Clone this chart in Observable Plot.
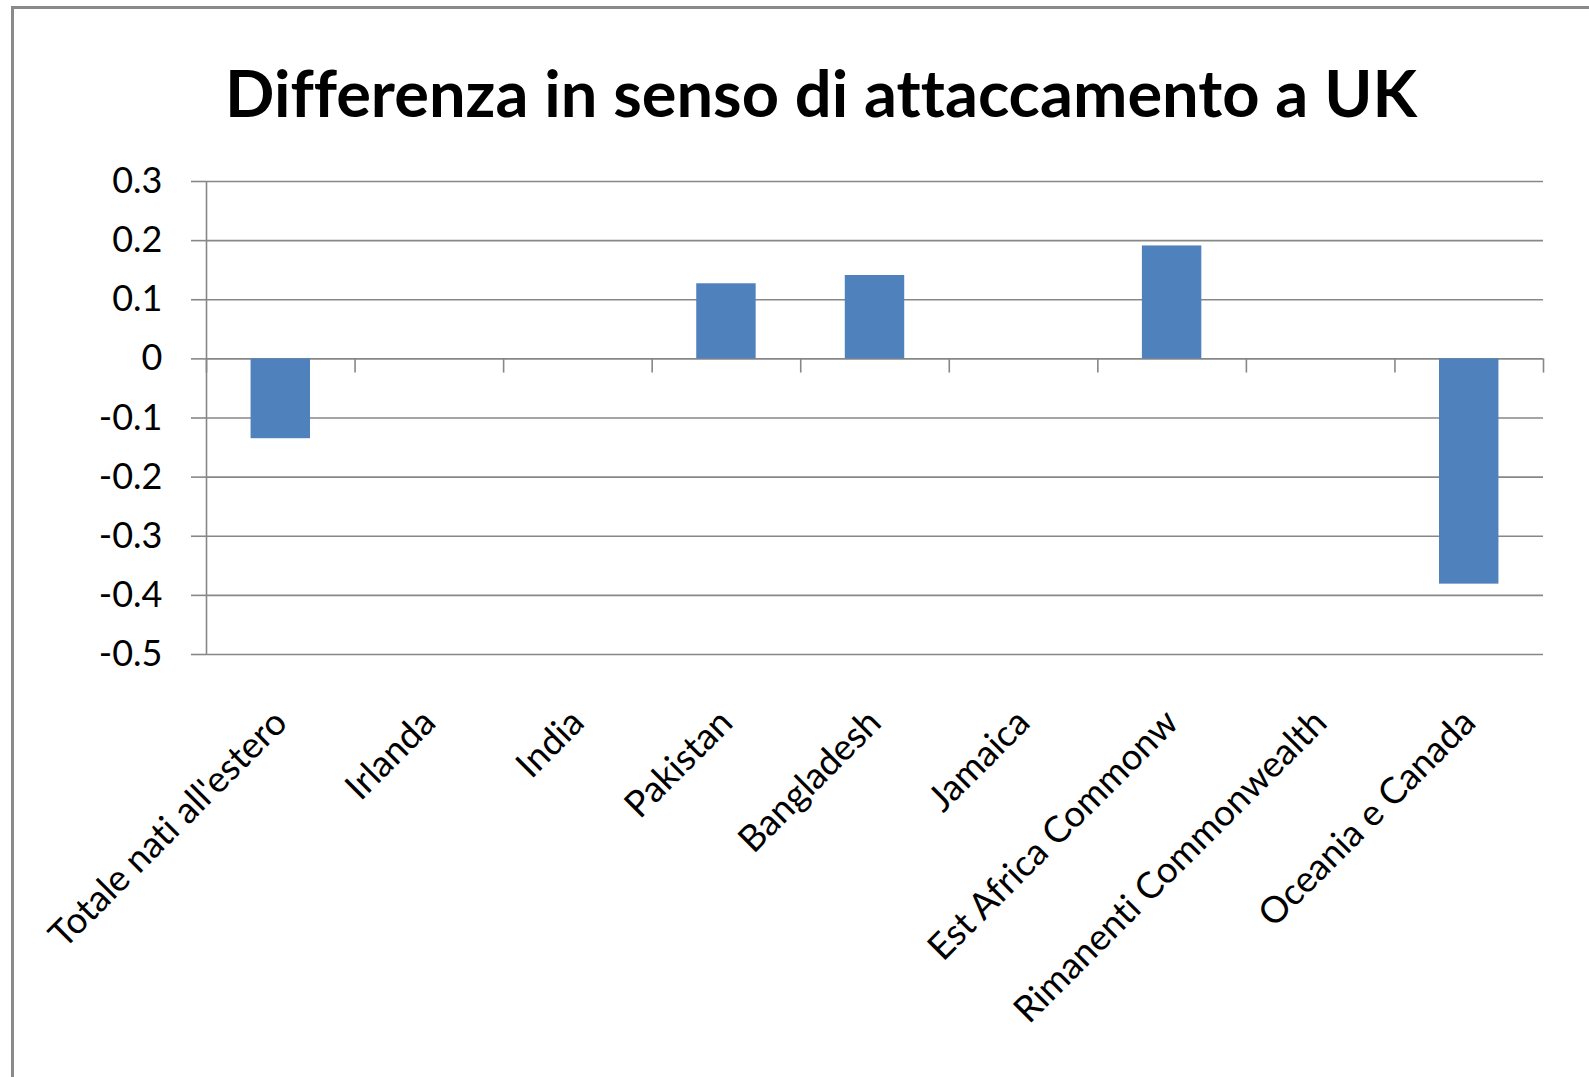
<!DOCTYPE html>
<html>
<head>
<meta charset="utf-8">
<script src="https://cdn.jsdelivr.net/npm/d3@7"></script>
<script src="https://cdn.jsdelivr.net/npm/@observablehq/plot@0.6"></script>
<style>
  html, body { margin: 0; padding: 0; background: #fff; }
  #page { position: relative; width: 1589px; height: 1077px; overflow: hidden; background: #fff;
          font-variant-ligatures: none; font-feature-settings: "liga" 0, "clig" 0; }
  #frame { position: absolute; left: 11px; top: 6px; width: 2000px; height: 2000px;
           border-left: 3px solid #8a8a8a; border-top: 3px solid #8a8a8a; pointer-events: none; }
  #titlebox { position: relative; height: 150px; }
  #title { position: absolute; left: 821px; top: 60px; transform: translateX(-50%);
           font-family: Lato, sans-serif; font-weight: bold; font-size: 65px; line-height: 65px;
           white-space: nowrap; color: #000; }
  #chart svg { display: block; }
  #chart svg text { font-variant-ligatures: none; }
</style>
</head>
<body>
<div id="page">
  <div id="titlebox"><div id="title">Differenza in senso di attaccamento a UK</div></div>
  <div id="chart"></div>
  <div id="frame"></div>
</div>
<script>
const categories = [
  "Totale nati all'estero",
  "Irlanda",
  "India",
  "Pakistan",
  "Bangladesh",
  "Jamaica",
  "Est Africa Commonw",
  "Rimanenti Commonwealth",
  "Oceania e Canada"
];
const values = [-0.135, 0, 0, 0.127, 0.141, 0, 0.191, 0, -0.381];
const yTicks = [0.3, 0.2, 0.1, 0, -0.1, -0.2, -0.3, -0.4, -0.5];

const data = categories.map((c, i) => ({category: c, index: i, value: values[i]}));
const boundaries = d3.range(categories.length + 1);
const labelPositions = categories.map((c, i) => i + 0.5);
const grey = "#878787";

const chart = Plot.plot({
  width: 1589,
  height: 927,
  marginLeft: 206,
  marginRight: 46,
  marginTop: 31,
  marginBottom: 423,
  style: {fontFamily: "Lato, sans-serif", fontSize: "36px", color: "#000", background: "transparent"},
  x: {type: "linear", domain: [0, categories.length]},
  y: {domain: [-0.5, 0.3]},
  marks: [
    Plot.gridY(yTicks, {stroke: grey, strokeOpacity: 1, strokeWidth: 1.6}),
    Plot.axisY(yTicks, {
      tickSize: 15, tickPadding: 29, stroke: grey, strokeWidth: 1.6, fill: "#000",
      fontSize: 36, tickFormat: d => String(Math.round(d * 10) / 10)
    }),
    Plot.ruleX([0], {y1: -0.5, y2: 0.3, stroke: grey, strokeWidth: 1.6}),
    Plot.ruleX(boundaries, {x: d => d, y1: 0, y2: -0.024, stroke: grey, strokeWidth: 1.6}),
    Plot.rectY(data, {x1: d => d.index + 0.3, x2: d => d.index + 0.7, y1: 0, y2: d => d.value, fill: "#4f81bd"}),
    Plot.axisX(labelPositions, {
      tickSize: 0, tickPadding: 62, tickRotate: -45, fill: "#000", fontSize: 36.5,
      tickFormat: v => categories[Math.floor(v)]
    })
  ]
});
document.getElementById("chart").appendChild(chart);
</script>
</body>
</html>
